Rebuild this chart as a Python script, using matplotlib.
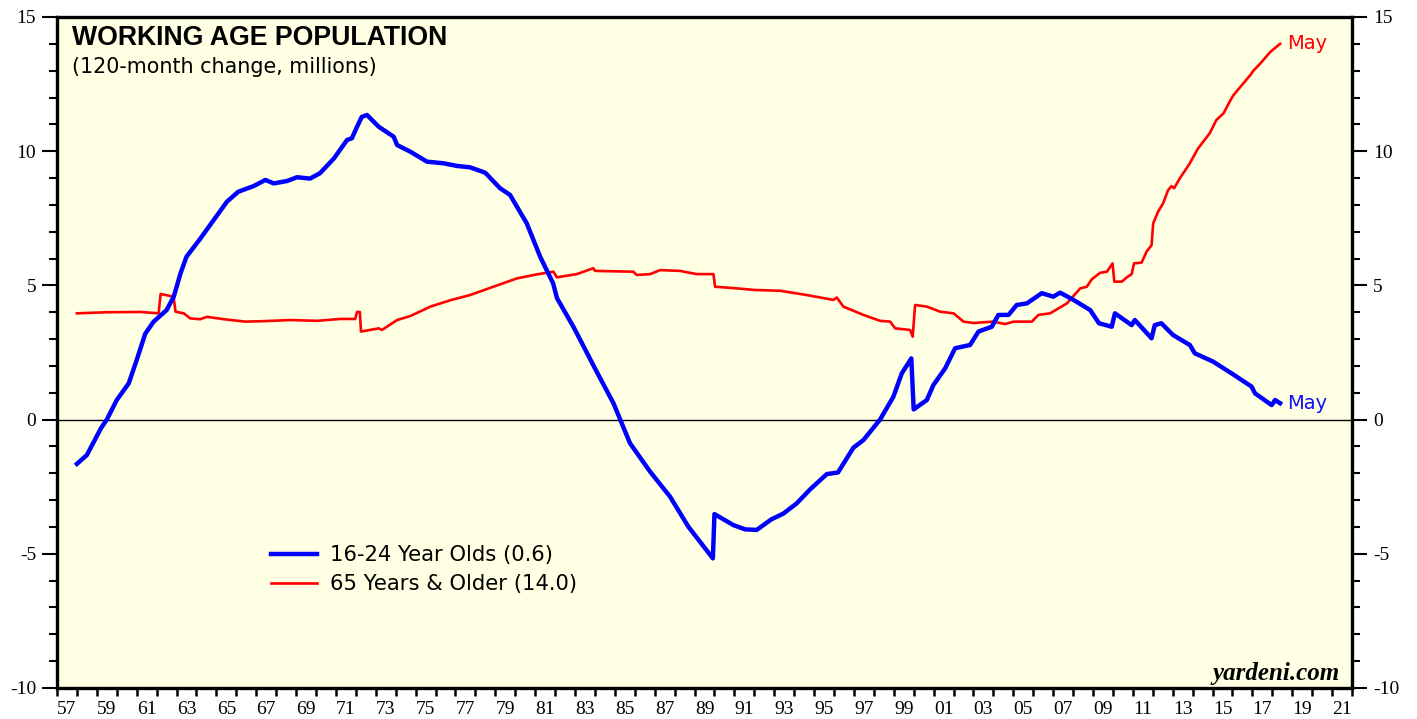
import matplotlib
matplotlib.use("Agg")
import matplotlib.pyplot as plt
from matplotlib.ticker import MultipleLocator, FixedLocator, NullFormatter

# ---------------- data ----------------
young_years = [1958.0, 1958.5, 1959.2, 1959.5, 1960.0, 1960.6, 1961.0, 1961.43, 1961.85, 1962.5,
               1962.86, 1963.2, 1963.5, 1964.2, 1964.87, 1965.53, 1966.1, 1966.87, 1967.46, 1967.88,
               1968.55, 1969.05, 1969.7, 1970.2, 1970.9, 1971.56, 1971.8, 1972.06, 1972.3, 1972.56,
               1973.15, 1973.9, 1974.07, 1974.74, 1975.57, 1976.4, 1977.08, 1977.73, 1978.49, 1979.24,
               1979.74, 1980.58, 1981.25, 1981.9, 1982.1, 1982.92, 1984.0, 1984.93, 1985.27, 1985.76,
               1986.77, 1987.77, 1988.69, 1989.92, 1990.0, 1990.95, 1991.54, 1992.12, 1992.85, 1993.46,
               1994.13, 1994.8, 1995.64, 1996.2, 1996.97, 1997.48, 1998.31, 1998.98, 1999.4, 1999.88,
               2000.0, 2000.66, 2000.99, 2001.58, 2002.08, 2002.83, 2003.25, 2003.92, 2004.25, 2004.76,
               2005.17, 2005.68, 2006.43, 2007.01, 2007.35, 2008.02, 2008.86, 2009.3, 2009.94, 2010.1,
               2010.94, 2011.1, 2011.94, 2012.1, 2012.43, 2013.02, 2013.86, 2014.11, 2015.03, 2015.96,
               2016.96, 2017.13, 2017.97, 2018.14, 2018.39]
young_values = [-1.65, -1.32, -0.33, 0.0, 0.73, 1.35, 2.22, 3.2, 3.65, 4.08,
                4.58, 5.45, 6.07, 6.75, 7.44, 8.12, 8.49, 8.7, 8.93, 8.8,
                8.89, 9.03, 8.98, 9.18, 9.73, 10.42, 10.48, 10.91, 11.28, 11.35,
                10.91, 10.54, 10.23, 9.98, 9.61, 9.55, 9.45, 9.4, 9.2, 8.62,
                8.37, 7.31, 6.07, 5.08, 4.52, 3.46, 1.91, 0.61, 0.0, -0.88,
                -1.94, -2.87, -3.99, -5.17, -3.52, -3.93, -4.09, -4.11, -3.72, -3.5,
                -3.12, -2.6, -2.03, -1.97, -1.05, -0.76, 0.0, 0.85, 1.72, 2.28,
                0.38, 0.73, 1.29, 1.91, 2.66, 2.78, 3.28, 3.46, 3.9, 3.9,
                4.27, 4.33, 4.71, 4.58, 4.73, 4.46, 4.08, 3.59, 3.46, 3.96,
                3.52, 3.71, 3.03, 3.52, 3.59, 3.15, 2.78, 2.47, 2.16, 1.72,
                1.23, 0.98, 0.54, 0.73, 0.61]

old_years = [1958.0, 1959.5, 1961.2, 1962.1, 1962.2, 1962.85, 1962.95, 1963.36, 1963.69, 1964.19,
             1964.53, 1965.37, 1966.45, 1967.46, 1968.71, 1970.05, 1971.22, 1971.97, 1972.06, 1972.2,
             1972.26, 1973.15, 1973.31, 1974.07, 1974.74, 1975.74, 1976.8, 1977.73, 1978.9, 1980.08,
             1981.08, 1981.92, 1982.09, 1983.09, 1983.92, 1984.01, 1985.93, 1986.1, 1986.77, 1987.27,
             1988.27, 1989.11, 1989.95, 1990.03, 1991.12, 1992.0, 1993.3, 1994.64, 1995.97, 1996.14,
             1996.47, 1997.48, 1998.31, 1998.82, 1999.07, 1999.82, 1999.95, 2000.07, 2000.66, 2001.33,
             2002.0, 2002.5, 2003.0, 2004.0, 2004.59, 2005.01, 2005.93, 2006.26, 2006.85, 2007.69,
             2008.36, 2008.69, 2008.94, 2009.36, 2009.7, 2009.98, 2010.07, 2010.45, 2010.7, 2010.94,
             2011.06, 2011.44, 2011.69, 2011.94, 2012.02, 2012.27, 2012.52, 2012.77, 2012.94, 2013.07,
             2013.36, 2013.86, 2014.27, 2014.86, 2015.19, 2015.55, 2015.9, 2016.05, 2016.9, 2017.05,
             2017.4, 2017.9, 2018.39]
old_values = [3.96, 4.0, 4.01, 3.96, 4.68, 4.58, 4.02, 3.96, 3.77, 3.74,
              3.83, 3.74, 3.65, 3.67, 3.71, 3.68, 3.75, 3.75, 4.01, 4.01,
              3.28, 3.4, 3.34, 3.71, 3.86, 4.21, 4.46, 4.64, 4.95, 5.26,
              5.41, 5.51, 5.3, 5.42, 5.64, 5.54, 5.51, 5.39, 5.42, 5.57,
              5.54, 5.42, 5.42, 4.95, 4.89, 4.83, 4.8, 4.64, 4.46, 4.55,
              4.21, 3.9, 3.68, 3.65, 3.4, 3.34, 3.09, 4.27, 4.21, 4.02,
              3.96, 3.65, 3.6, 3.65, 3.56, 3.65, 3.65, 3.9, 3.96, 4.33,
              4.89, 4.95, 5.23, 5.47, 5.51, 5.82, 5.14, 5.14, 5.3, 5.42,
              5.82, 5.85, 6.26, 6.5, 7.31, 7.75, 8.06, 8.55, 8.7, 8.62,
              8.99, 9.55, 10.1, 10.67, 11.16, 11.41, 11.9, 12.09, 12.84, 13.0,
              13.27, 13.7, 14.0]

young_label = "16-24 Year Olds (0.6)"
old_label = "65 Years & Older (14.0)"
title = "WORKING AGE POPULATION"
subtitle = "(120-month change, millions)"
last_label = "May"
x_label_years = list(range(1957, 2022, 2))
x_tick_labels = [f"{y % 100:02d}" for y in x_label_years]
y_ticks = [-10, -5, 0, 5, 10, 15]

# ---------------- figure ----------------
W, H = 1417, 719
fig = plt.figure(figsize=(W / 100, H / 100), dpi=100)
fig.patch.set_facecolor("white")
ax = fig.add_axes([57 / W, 1 - 688 / H, (1352 - 57) / W, (688 - 17) / H])
ax.set_facecolor("#FFFFE3")

ax.axhline(0, color="black", lw=1.0, zorder=1)
ax.plot(old_years, old_values, color="#FF0000", lw=1.9, zorder=3, label=old_label)
ax.plot(young_years, young_values, color="#0000FF", lw=3.2, zorder=4, label=young_label)

ax.set_xlim(1957, 2022)
ax.set_ylim(-10, 15)

serif = "Liberation Serif"
sans = "Liberation Sans"
wide = "DejaVu Sans"

# y ticks
ax.yaxis.set_major_locator(FixedLocator(y_ticks))
ax.yaxis.set_minor_locator(MultipleLocator(1))
ax.set_yticklabels([str(v) for v in y_ticks], fontfamily=serif, fontsize=14)
ax.tick_params(axis="y", which="major", direction="out", length=11, width=1.5,
               left=True, right=True, labelleft=True, labelright=True, pad=4)
ax.tick_params(axis="y", which="minor", direction="out", length=5.5, width=1.5,
               left=True, right=True)

# x ticks: yearly ticks, labels centred in odd-year intervals
ax.xaxis.set_major_locator(MultipleLocator(1))
ax.xaxis.set_major_formatter(NullFormatter())
ax.tick_params(axis="x", which="major", direction="out", length=6, width=1.8)
ax.xaxis.set_minor_locator(FixedLocator([y + 0.5 for y in x_label_years]))
ax.set_xticklabels(x_tick_labels, minor=True, fontfamily=serif, fontsize=14)
ax.tick_params(axis="x", which="minor", length=0, pad=9)

for s in ax.spines.values():
    s.set_linewidth(2.4)
    s.set_color("black")

# titles
ax.text(0.0116, 0.958, title, transform=ax.transAxes, fontfamily=sans,
        fontweight="bold", fontsize=19.2, va="baseline", ha="left")
ax.text(0.0116, 0.9165, subtitle, transform=ax.transAxes, fontfamily=wide,
        fontsize=14.9, va="baseline", ha="left")

# end labels
ax.annotate(last_label, xy=(old_years[-1], old_values[-1]), xytext=(5, 0),
            textcoords="offset points", color="#FF0000", fontfamily=wide,
            fontsize=14, va="center", ha="left")
ax.annotate(last_label, xy=(young_years[-1], young_values[-1]), xytext=(5, 0),
            textcoords="offset points", color="#1010FF", fontfamily=wide,
            fontsize=14, va="center", ha="left")

# source
ax.text(0.9907, 0.012, "yardeni.com", transform=ax.transAxes, fontfamily=serif,
        fontweight="bold", fontstyle="italic", fontsize=18, ha="right", va="baseline")

# legend
handles, labels = ax.get_legend_handles_labels()
order = [labels.index(young_label), labels.index(old_label)]
leg = ax.legend([handles[i] for i in order], [labels[i] for i in order],
                loc="upper left", bbox_to_anchor=(0.165, 0.213), frameon=False,
                borderpad=0, borderaxespad=0, handlelength=2.2, handletextpad=0.6,
                labelspacing=0.42, prop={"family": wide, "size": 15.2})

fig.savefig("out.png", dpi=100, facecolor="white")
